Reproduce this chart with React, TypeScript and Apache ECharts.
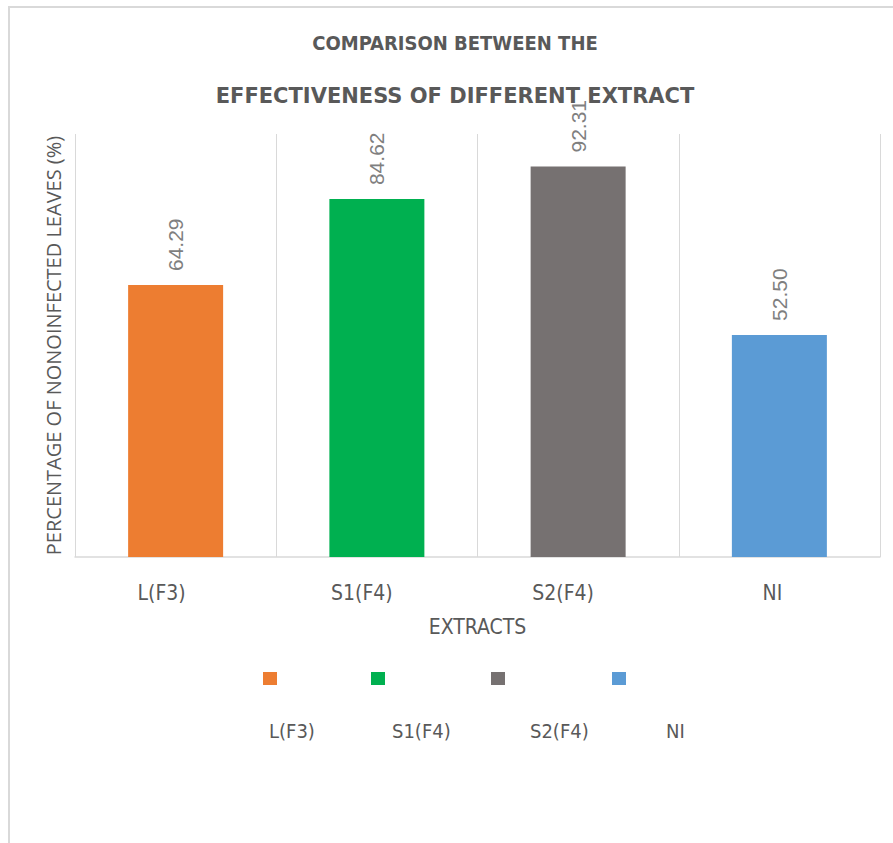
import React, { useEffect, useRef } from "react";
import * as echarts from "echarts";

// Extract names and share of non-infected leaves (%)
const categories = ["L(F3)", "S1(F4)", "S2(F4)", "NI"];
const values = [64.29, 84.62, 92.31, 52.5];
const barColors = ["#ED7D31", "#00B050", "#767171", "#5B9BD5"];

const titleLine1 = "COMPARISON BETWEEN THE";
const titleLine2 = "EFFECTIVENESS OF DIFFERENT EXTRACT";
const yAxisTitle = "PERCENTAGE OF NONOINFECTED LEAVES (%)";
const xAxisTitle = "EXTRACTS";

// horizontal nudge (px, leftwards) of each category label
const labelNudge = [14, 15, 15, 7];
// legend swatch and label left edges
const swatchLeft = [263, 371, 491, 612];
const legendTextLeft = [269, 392, 530, 666];

const NARROW = "'Liberation Sans Narrow', 'DejaVu Sans Condensed', 'Open Sans', sans-serif";
const TEXT_GRAY = "#595959";

export default function App() {
  const ref = useRef<HTMLDivElement>(null);

  useEffect(() => {
    document.body.style.margin = "0";
    if (!ref.current) return;
    const chart = echarts.init(ref.current, null, { renderer: "svg" });

    const series = categories.map((name, i) => ({
      type: "bar",
      name,
      stack: "all",
      barWidth: 95,
      data: values.map((v, j) => (j === i ? v : "-")),
      itemStyle: { color: barColors[i] },
      label: {
        show: true,
        position: "top",
        rotate: 90,
        align: "left",
        verticalAlign: "middle",
        distance: 14,
        color: "#7F7F7F",
        fontSize: 21,
        fontFamily: "'Liberation Sans', Arial, sans-serif",
        formatter: (p: any) => Number(p.value).toFixed(2),
      },
    }));

    const swatchLegends = categories.map((name, i) => ({
      data: [name],
      left: swatchLeft[i],
      top: 672,
      padding: 0,
      itemWidth: 14,
      itemHeight: 13,
      icon: "rect",
      formatter: () => "",
      selectedMode: false,
    }));

    const textLegends = categories.map((name, i) => ({
      data: [name],
      left: legendTextLeft[i] - 5,
      top: 721,
      padding: 0,
      itemWidth: 0,
      itemHeight: 10,
      icon: "none",
      selectedMode: false,
      textStyle: { color: TEXT_GRAY, fontSize: 20, fontFamily: NARROW },
    }));

    chart.setOption({
      animation: false,
      backgroundColor: "#ffffff",
      title: [
        {
          text: titleLine1,
          left: 455,
          top: 33,
          padding: 0,
          textAlign: "center",
          textStyle: { color: TEXT_GRAY, fontSize: 20, fontWeight: "bold", fontFamily: NARROW },
        },
        {
          text: titleLine2,
          left: 455,
          top: 85,
          padding: 0,
          textAlign: "center",
          textStyle: {
            color: TEXT_GRAY,
            fontSize: 21,
            fontWeight: "bold",
            fontFamily: "'DejaVu Sans', sans-serif",
          },
        },
      ],
      legend: [...swatchLegends, ...textLegends],
      grid: { left: 75, right: 13, top: 134, bottom: 286, containLabel: false },
      xAxis: {
        type: "category",
        data: categories.map((c, i) => ({
          value: c,
          textStyle: { padding: [0, labelNudge[i] * 2, 0, 0] },
        })),
        axisLine: { lineStyle: { color: "#D9D9D9", width: 1.5 } },
        axisTick: { show: false },
        splitLine: { show: true, lineStyle: { color: "#D9D9D9", width: 1 } },
        axisLabel: { color: TEXT_GRAY, fontSize: 21, fontFamily: NARROW, margin: 25 },
        name: xAxisTitle,
        nameLocation: "middle",
        nameGap: 59,
        nameTextStyle: { color: TEXT_GRAY, fontSize: 21, fontFamily: NARROW },
      },
      yAxis: {
        type: "value",
        min: 0,
        max: 100,
        axisLine: { show: false },
        axisTick: { show: false },
        axisLabel: { show: false },
        splitLine: { show: false },
        name: yAxisTitle,
        nameLocation: "middle",
        nameRotate: 90,
        nameGap: 12,
        nameTextStyle: {
          color: TEXT_GRAY,
          fontSize: 20,
          fontFamily: "'Open Sans', sans-serif",
        },
      },
      graphic: [
        {
          type: "rect",
          silent: true,
          shape: { x: 9, y: 7, width: 1000, height: 1000 },
          style: { fill: "none", stroke: "#D9D9D9", lineWidth: 2 },
          z: -1,
        },
      ],
      series,
    });

    return () => chart.dispose();
  }, []);

  return <div ref={ref} style={{ width: 893, height: 843 }} />;
}
